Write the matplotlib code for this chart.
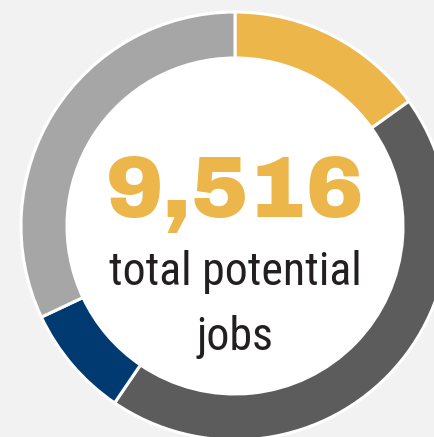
import matplotlib.pyplot as plt
from matplotlib.patches import Circle

# ===== データ =====
labels = ["yellow", "dark gray", "navy", "light gray"]
jobs = [1437, 4226, 808, 3045]
colors = ["#ECB64A", "#5B5C5B", "#003A70", "#A6A6A6"]
total_text = "9,516"
sub_lines = ["total potential", "jobs"]

# ===== グラフ =====
fig = plt.figure(figsize=(4.35, 4.37), dpi=100, facecolor="#F2F2F2")
ax = fig.add_axes([0, 0, 1, 1])
ax.set_facecolor("#F2F2F2")

cx, cy = 235, 211
ax.add_patch(Circle((cx, cy), 170, facecolor="white", edgecolor="none", zorder=0))
ax.pie(jobs, colors=colors, startangle=90, counterclock=False,
       center=(cx, cy), radius=214, frame=True,
       wedgeprops=dict(width=46, edgecolor="white", linewidth=2.2))
ax.set_xlim(0, 435)
ax.set_ylim(0, 437)
ax.set_aspect("equal")
ax.axis("off")

ax.text(cx, 220, total_text, ha="center", va="baseline", color="#ECB64A",
        fontsize=62, family=["Archivo Black", "Lato", "DejaVu Sans"])
for y, line in zip([152, 87], sub_lines):
    ax.text(cx, y, line, ha="center", va="baseline", color="#231F20",
            fontsize=33, family=["Roboto Condensed", "Liberation Sans Narrow", "DejaVu Sans"])

fig.savefig("out.png", dpi=100, facecolor=fig.get_facecolor())
